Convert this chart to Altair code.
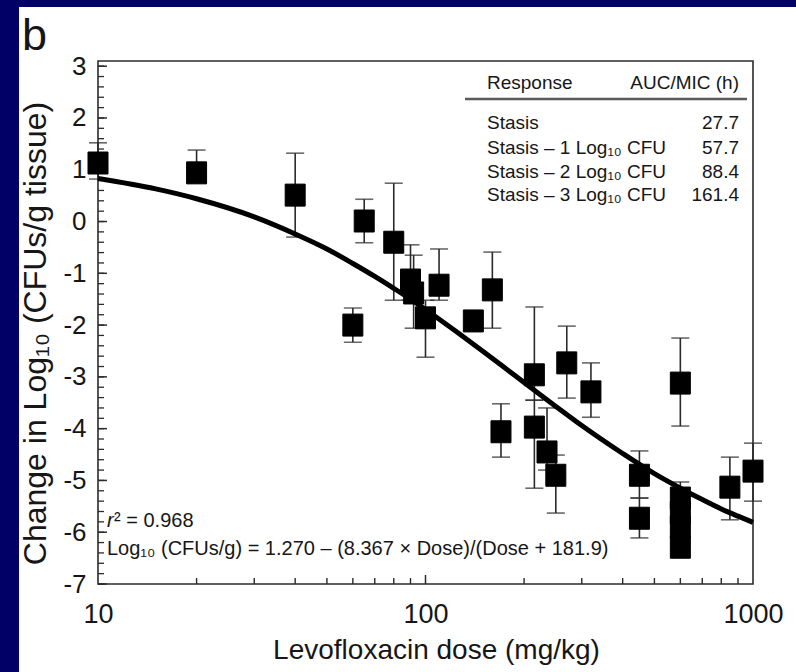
import altair as alt
import pandas as pd

# ---------------- data ----------------
dose = [10, 20, 40, 65, 60, 80, 90, 92, 100, 110, 140, 160, 170, 215, 215, 235,
        250, 270, 320, 450, 450, 600, 600, 600, 600, 600, 850, 1000]
resp = [1.13, 0.94, 0.51, 0.01, -2.00, -0.40, -1.13, -1.38, -1.86, -1.23, -1.92,
        -1.32, -4.06, -2.96, -3.97, -4.45, -4.90, -2.73, -3.29, -4.90, -5.73,
        -3.12, -5.34, -5.62, -5.90, -6.29, -5.13, -4.82]
err_hi = [1.52, 1.38, 1.32, 0.43, -1.67, 0.74, -0.45, -0.65, -1.52, -0.53, -1.75,
          -0.59, -3.52, -1.65, -3.45, -3.60, -4.51, -2.02, -2.73, -4.43, -5.34,
          -2.25, -5.03, -5.62, -5.90, -6.29, -4.55, -4.28]
err_lo = [0.82, 0.94, -0.30, -0.41, -2.33, -1.52, -1.52, -2.06, -2.62, -1.52, -2.09,
          -2.06, -4.55, -3.45, -5.15, -4.80, -5.63, -3.41, -3.78, -5.34, -6.11,
          -3.95, -5.34, -5.62, -5.90, -6.29, -5.76, -5.40]

curve_dose = [10, 15, 20, 30, 40, 50, 60, 70, 80, 90, 100, 125, 150, 175, 200,
              250, 300, 400, 500, 600, 700, 800, 900, 1000]
curve_val = [0.83, 0.63, 0.44, 0.09, -0.24, -0.53, -0.81, -1.06, -1.29, -1.50,
             -1.70, -2.14, -2.51, -2.83, -3.11, -3.57, -3.94, -4.48, -4.87,
             -5.15, -5.37, -5.55, -5.69, -5.81]

x_labels = [10, 100, 1000]
x_minor = [20, 30, 40, 50, 60, 70, 80, 90, 200, 300, 400, 500, 600, 700, 800, 900]
y_labels = [3, 2, 1, 0, -1, -2, -3, -4, -5, -6, -7]
y_minor = [round(-7 + 0.2 * i, 1) for i in range(51)]

table_header = ["Response", "AUC/MIC (h)"]
table_rows = ["Stasis", "Stasis \u2013 1 Log\u2081\u2080 CFU",
              "Stasis \u2013 2 Log\u2081\u2080 CFU", "Stasis \u2013 3 Log\u2081\u2080 CFU"]
table_vals = ["27.7", "57.7", "88.4", "161.4"]
r2_text = ["r", "\u00b2 = 0.968"]
eq_text = "Log\u2081\u2080 (CFUs/g) = 1.270 \u2013 (8.367 \u00d7 Dose)/(Dose + 181.9)"
panel_letter = "b"
x_title = "Levofloxacin dose (mg/kg)"
y_title = "Change in Log\u2081\u2080 (CFUs/g tissue)"

# ---------------- styling ----------------
FONT = "Liberation Sans, Arial, sans-serif"
INK = "#161616"
W, H = 655, 523

pts = pd.DataFrame({"dose": dose, "resp": resp, "hi": err_hi, "lo": err_lo})
curve = pd.DataFrame({"dose": curve_dose, "resp": curve_val})
one = pd.DataFrame({"a": [0]})

xs = alt.Scale(type="log", domain=[10, 1000], nice=False)
ys = alt.Scale(domain=[-7, 3.1], nice=False, zero=False)

xaxis = alt.Axis(values=x_labels, format="d", labelFontSize=27, labelFont=FONT,
                 labelColor=INK, labelPadding=17, labelFlush=False, ticks=False,
                 domain=False, grid=False, title=x_title, titleFont=FONT,
                 titleFontSize=28, titleFontWeight="normal", titleColor=INK,
                 titleX=338, titleY=74, titleBaseline="alphabetic", zindex=2)
yaxis = alt.Axis(values=y_labels, labelFontSize=26, labelFont=FONT, labelColor=INK,
                 labelPadding=12, labelFlush=False, ticks=False, domain=False,
                 grid=False,
                 labelExpr="datum.value < 0 ? '-' + abs(datum.value) : '' + datum.value",
                 title=y_title, titleFont=FONT, titleFontSize=32,
                 titleFontWeight="normal", titleColor=INK, titleAngle=270,
                 titleX=-63, titleY=272, titleBaseline="middle", titleAlign="center",
                 zindex=2)


def X(field):
    return alt.X(field, type="quantitative", scale=xs, axis=xaxis)


def Y(field):
    return alt.Y(field, type="quantitative", scale=ys, axis=yaxis)


# white panel on the dark blue slide
panel = alt.Chart(one).mark_rect(color="white").encode(
    x=alt.value(-79), x2=alt.value(W + 43), y=alt.value(-54), y2=alt.value(H + 88))

frame = alt.Chart(one).mark_rect(filled=False, stroke="#2b2b2b", strokeWidth=1.6).encode(
    x=alt.value(0), x2=alt.value(W), y=alt.value(0), y2=alt.value(H))

# inward ticks
ymin_df = pd.DataFrame({"v": y_minor})
ytick_minor = alt.Chart(ymin_df).mark_rule(color="#2b2b2b", strokeWidth=1.3).encode(
    y=Y("v"), x=alt.value(0), x2=alt.value(6))
ymaj_df = pd.DataFrame({"v": y_labels})
ytick_major = alt.Chart(ymaj_df).mark_rule(color="#2b2b2b", strokeWidth=1.5).encode(
    y=Y("v"), x=alt.value(0), x2=alt.value(9))
xmin_df = pd.DataFrame({"d": x_minor})
xtick_minor = alt.Chart(xmin_df).mark_rule(color="#2b2b2b", strokeWidth=1.4).encode(
    x=X("d"), y=alt.value(H), y2=alt.value(H - 6))
xmaj_df = pd.DataFrame({"d": [100]})
xtick_major = alt.Chart(xmaj_df).mark_rule(color="#2b2b2b", strokeWidth=1.5).encode(
    x=X("d"), y=alt.value(H), y2=alt.value(H - 9))

# error bars
err = alt.Chart(pts).mark_rule(color="#2a2a2a", strokeWidth=1.6).encode(
    x=X("dose"), y=Y("lo"), y2="hi")
cap_hi = alt.Chart(pts).mark_tick(color="#2a2a2a", orient="horizontal", size=18,
                                   thickness=1.6).encode(x=X("dose"), y=Y("hi"))
cap_lo = alt.Chart(pts).mark_tick(color="#2a2a2a", orient="horizontal", size=18,
                                   thickness=1.6).encode(x=X("dose"), y=Y("lo"))

fit = alt.Chart(curve).mark_line(color="black", strokeWidth=5, interpolate="monotone").encode(
    x=X("dose"), y=Y("resp"))

squares = alt.Chart(pts).mark_point(
    shape="M-1,-1.1L1,-1.1L1,1.1L-1,1.1Z", filled=True, fill="black", stroke="black",
    strokeWidth=1, opacity=1, size=400).encode(x=X("dose"), y=Y("resp"))


def txt(text, x, y, size, align="left", style="normal", baseline="middle"):
    return alt.Chart(pd.DataFrame({"t": [text]})).mark_text(
        align=align, baseline=baseline, fontSize=size, font=FONT, fontStyle=style,
        color=INK).encode(x=alt.value(x), y=alt.value(y), text="t:N")


texts = [
    txt(panel_letter, -76, -11, 45, baseline="alphabetic"),
    txt(table_header[0], 389, 22, 19),
    txt(table_header[1], 641, 22, 19, align="right"),
]
row_y = [62, 87, 111, 134]
for lab, val, yy in zip(table_rows, table_vals, row_y):
    texts.append(txt(lab, 389, yy, 19))
    texts.append(txt(val, 641, yy, 19, align="right"))
texts.append(txt(r2_text[0], 9, 460, 20, style="italic"))
texts.append(txt(r2_text[1], 16, 460, 20))
texts.append(txt(eq_text, 9, 488, 20))

rule_hdr = alt.Chart(one).mark_rule(color="#5a5a5a", strokeWidth=2.5).encode(
    x=alt.value(367), x2=alt.value(649), y=alt.value(38))

chart = alt.layer(
    panel, frame, ytick_minor, ytick_major, xtick_minor, xtick_major,
    err, cap_hi, cap_lo, fit, squares, rule_hdr, *texts
).properties(
    width=W, height=H,
    padding={"left": 98, "top": 61, "right": 43, "bottom": 88},
    autosize=alt.AutoSizeParams(type="none"),
).configure(background="#000066").configure_view(stroke=None)

chart.save("out.html", embed_options={"renderer": "svg", "actions": False})
